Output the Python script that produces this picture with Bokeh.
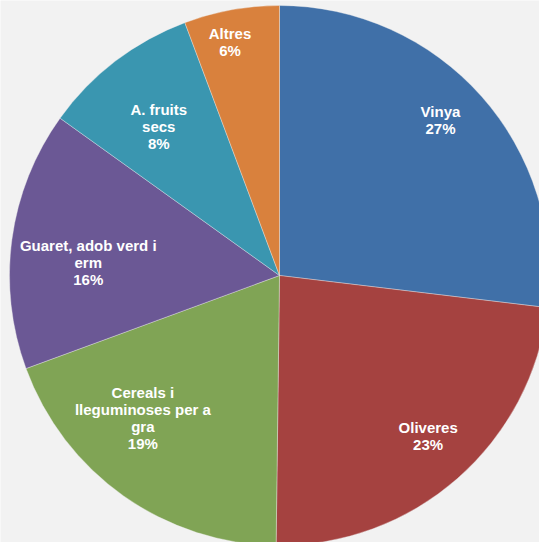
import math
from bokeh.plotting import figure
from bokeh.models import ColumnDataSource, Range1d
from bokeh.core.properties import value
from bokeh.embed import file_html
from bokeh.resources import INLINE

# ---- data ----
categories = ["Vinya", "Oliveres", "Cereals i lleguminoses per a gra",
              "Guaret, adob verd i erm", "A. fruits secs", "Altres"]
shares = [26.9, 23.3, 19.2, 15.5, 9.4, 5.7]
pct_labels = ["27%", "23%", "19%", "16%", "8%", "6%"]
label_lines = ["Vinya", "Oliveres", "Cereals i\nlleguminoses per a\ngra",
               "Guaret, adob verd i\nerm", "A. fruits\nsecs", "Altres"]
colors = ["#4070A8", "#A54240", "#80A455", "#6B5895", "#3A96B0", "#D9813D"]

# ---- layout / style ----
W, H = 539, 542
cx, cy, R = 279, H - 275, 270
label_r = [0.83, 0.81, 0.73, 0.71, 0.71, 0.885]
label_dang = [-2.5, -1.6, 8.6, -3.8, -1.6, -1.7]

total = sum(shares)
starts, ends, lx, ly, texts = [], [], [], [], []
cum = 0.0
for i, v in enumerate(shares):
    f0 = cum / total
    cum += v
    f1 = cum / total
    starts.append(math.pi / 2 - f0 * 2 * math.pi)
    ends.append(math.pi / 2 - f1 * 2 * math.pi)
    mid_deg = (f0 + f1) / 2 * 360 + label_dang[i]
    a = math.radians(90 - mid_deg)
    lx.append(cx + label_r[i] * R * math.cos(a))
    ly.append(cy + label_r[i] * R * math.sin(a))
    texts.append(label_lines[i] + "\n" + pct_labels[i])

src = ColumnDataSource(dict(start=starts, end=ends, color=colors,
                            cat=categories, share=shares))
lsrc = ColumnDataSource(dict(x=lx, y=ly, text=texts))

p = figure(width=W, height=H, output_backend="svg", toolbar_location=None,
           x_range=Range1d(0, W), y_range=Range1d(0, H), min_border=0)
p.axis.visible = False
p.grid.visible = False
p.outline_line_color = None
p.background_fill_color = "#F2F2F2"
p.border_fill_color = "#F2F2F2"

p.wedge(x=cx, y=cy, radius=R, start_angle="start", end_angle="end",
        direction="clock", fill_color="color", line_color="#F2F2F2",
        line_width=0.6, line_alpha=0.6, source=src)

p.text(x="x", y="y", text="text", source=lsrc, text_align="center",
       text_baseline="middle", text_color="#FFFFFF",
       text_font=value("Liberation Sans"), text_font_style="bold",
       text_font_size="15px", text_line_height=1.0)

open("out.html", "w").write(file_html(p, INLINE))
